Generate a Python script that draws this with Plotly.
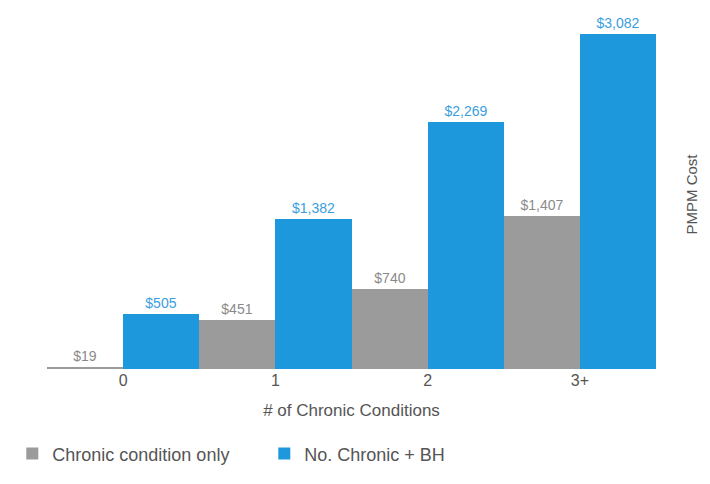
import plotly.graph_objects as go

categories = ["0", "1", "2", "3+"]
chronic_only = [19, 451, 740, 1407]
chronic_bh = [505, 1382, 2269, 3082]
series_names = ["Chronic condition only", "No. Chronic + BH"]

GRAY = "#9b9b9b"
BLUE = "#1e98dc"
FONT = "Liberation Sans, Arial, sans-serif"

def fmt(v):
    return "${:,}".format(v)

fig = go.Figure()
fig.add_trace(go.Bar(
    x=categories, y=chronic_only, name=series_names[0],
    marker=dict(color=GRAY, line=dict(width=0)),
    text=[fmt(v) for v in chronic_only], textposition="outside",
    textfont=dict(color="#8a8a8a", size=14, family=FONT),
    cliponaxis=False,
))
fig.add_trace(go.Bar(
    x=categories, y=chronic_bh, name=series_names[1],
    marker=dict(color=BLUE, line=dict(width=0)),
    text=[fmt(v) for v in chronic_bh], textposition="outside",
    textfont=dict(color="#3a9ee0", size=14, family=FONT),
    cliponaxis=False,
))

fig.update_layout(
    width=710, height=484,
    margin=dict(l=45, r=54, t=20, b=114),
    paper_bgcolor="white", plot_bgcolor="white",
    barmode="group", bargap=0, bargroupgap=0,
    font=dict(family=FONT, color="#555555"),
    showlegend=True,
    legend=dict(
        orientation="h", x=-0.057, xanchor="left", y=-0.243, yanchor="middle",
        font=dict(size=18, color="#555555", family=FONT),
        entrywidth=207, itemsizing="constant",
    ),
    xaxis=dict(
        showgrid=False, zeroline=False, showline=False,
        tickfont=dict(size=16, color="#555555"),
        title=dict(text="# of Chronic Conditions", font=dict(size=17, color="#555555"), standoff=16),
    ),
    yaxis=dict(
        side="right", range=[0, 3210], showgrid=False, zeroline=False,
        showline=False, showticklabels=False, ticks="",
        title=dict(text="PMPM Cost", font=dict(size=15, color="#555555"), standoff=30),
    ),
)

fig.write_html("out.html")
